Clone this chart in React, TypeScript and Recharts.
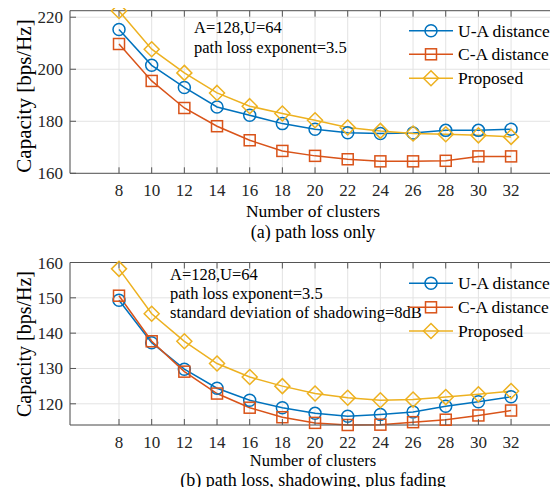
import React from "react";
import { LineChart, Line, XAxis, YAxis, CartesianGrid } from "recharts";

const clusters = [8, 10, 12, 14, 16, 18, 20, 22, 24, 26, 28, 30, 32];

// (a) path loss only
const uaPathLoss = [215.3, 201.5, 193.0, 185.5, 182.3, 179.1, 176.9, 175.6, 175.3, 175.5, 176.5, 176.5, 176.9];
const caPathLoss = [209.7, 195.5, 185.1, 178.1, 172.7, 168.6, 166.7, 165.4, 164.6, 164.6, 164.8, 166.5, 166.5];
const propPathLoss = [222.4, 207.7, 198.6, 190.9, 185.8, 183.0, 180.4, 177.6, 176.3, 175.3, 175.0, 174.6, 174.0];

// (b) path loss, shadowing, plus fading
const uaFading = [149.3, 137.3, 129.8, 124.4, 121.0, 118.9, 117.3, 116.5, 117.0, 117.7, 119.3, 120.6, 122.0];
const caFading = [150.6, 137.7, 129.1, 122.9, 118.9, 116.2, 114.6, 114.0, 114.1, 114.8, 115.5, 116.7, 118.1];
const propFading = [158.2, 145.5, 137.7, 131.4, 127.6, 125.0, 122.9, 121.7, 121.0, 121.2, 121.9, 122.7, 123.6];

const yTicksA = [160, 180, 200, 220];
const yTicksB = [120, 130, 140, 150, 160];

const seriesNames = ["U-A distance", "C-A distance", "Proposed"];
const COLORS = ["#0072BD", "#D95319", "#EDB120"];
const MARKERS = ["circle", "square", "diamond"];

const FONT = '"Liberation Serif", "Times New Roman", Times, serif';
const AXIS = "#555555";
const GRID = "#e3e3e3";
const serif = { fontFamily: FONT };

function buildRows(a: number[], b: number[], c: number[]) {
  return clusters.map((k, i) => ({ k, ua: a[i], ca: b[i], prop: c[i] }));
}

function Marker({ kind, cx, cy, color }: { kind: string; cx: number; cy: number; color: string }) {
  if (kind === "circle") return <circle cx={cx} cy={cy} r={6} fill="none" stroke={color} strokeWidth={1.5} />;
  if (kind === "square")
    return <rect x={cx - 5.5} y={cy - 5.5} width={11} height={11} fill="none" stroke={color} strokeWidth={1.5} />;
  return (
    <polygon
      points={`${cx},${cy - 7.5} ${cx + 7.5},${cy} ${cx},${cy + 7.5} ${cx - 7.5},${cy}`}
      fill="none"
      stroke={color}
      strokeWidth={1.5}
    />
  );
}

const dotFor = (idx: number) => (p: any) => (
  <Marker key={`${idx}-${p.index}`} kind={MARKERS[idx]} cx={p.cx} cy={p.cy} color={COLORS[idx]} />
);

// MATLAB style: ticks point into the box
const makeBottomTick = (labelOffset: number) => (p: any) => (
  <g>
    <line x1={p.x} x2={p.x} y1={p.y} y2={p.y - 6} stroke={AXIS} />
    <text x={p.x} y={p.y + labelOffset} textAnchor="middle" style={serif} fontSize={17} fill="#262626">
      {p.payload.value}
    </text>
  </g>
);
const TopTick = (p: any) => <line x1={p.x} x2={p.x} y1={p.y} y2={p.y + 6} stroke={AXIS} />;
const LeftTick = (p: any) => (
  <g>
    <line x1={p.x} x2={p.x + 6} y1={p.y} y2={p.y} stroke={AXIS} />
    <text x={p.x - 7} y={p.y + 6} textAnchor="end" style={serif} fontSize={17} fill="#262626">
      {p.payload.value}
    </text>
  </g>
);
const RightTick = (p: any) => <line x1={p.x} x2={p.x - 6} y1={p.y} y2={p.y} stroke={AXIS} />;

function Panel({
  rows,
  yDomain,
  yTicks,
  top,
  height,
  plotTop,
  plotBottom,
  labelOffset,
}: {
  rows: any[];
  yDomain: [number, number];
  yTicks: number[];
  top: number;
  height: number;
  plotTop: number;
  plotBottom: number;
  labelOffset: number;
}) {
  return (
    <div style={{ position: "absolute", left: 0, top }}>
      <LineChart
        width={558}
        height={height}
        data={rows}
        margin={{ top: plotTop - 1, right: 1, bottom: height - plotBottom - 30, left: 0 }}
      >
        <CartesianGrid stroke={GRID} />
        <XAxis
          dataKey="k"
          type="number"
          domain={[5, 34.75]}
          ticks={clusters}
          height={30}
          tickSize={0}
          tickMargin={0}
          tickLine={false}
          tick={makeBottomTick(labelOffset)}
          axisLine={{ stroke: AXIS }}
          interval={0}
        />
        <XAxis
          xAxisId="top"
          orientation="top"
          dataKey="k"
          type="number"
          domain={[5, 34.75]}
          ticks={clusters}
          height={1}
          tickSize={0}
          tickMargin={0}
          tickLine={false}
          tick={TopTick}
          axisLine={{ stroke: AXIS }}
          interval={0}
        />
        <YAxis
          type="number"
          domain={yDomain}
          ticks={yTicks}
          width={70}
          tickSize={0}
          tickMargin={0}
          tickLine={false}
          tick={LeftTick}
          axisLine={{ stroke: AXIS }}
          interval={0}
        />
        <YAxis
          yAxisId="right"
          orientation="right"
          type="number"
          domain={yDomain}
          ticks={yTicks}
          width={1}
          tickSize={0}
          tickMargin={0}
          tickLine={false}
          tick={RightTick}
          axisLine={{ stroke: AXIS }}
          interval={0}
        />
        {["ua", "ca", "prop"].map((key, i) => (
          <Line
            key={key}
            dataKey={key}
            stroke={COLORS[i]}
            strokeWidth={1.5}
            dot={dotFor(i)}
            activeDot={false}
            isAnimationActive={false}
          />
        ))}
      </LineChart>
    </div>
  );
}

function LegendBox({ rowsY }: { rowsY: number[] }) {
  return (
    <g>
      {seriesNames.map((name, i) => (
        <g key={name}>
          <line x1={409} x2={453} y1={rowsY[i]} y2={rowsY[i]} stroke={COLORS[i]} strokeWidth={1.5} />
          <Marker kind={MARKERS[i]} cx={431} cy={rowsY[i]} color={COLORS[i]} />
          <text x={458} y={rowsY[i] + 6} style={serif} fontSize={17.5} fill="#000">
            {name}
          </text>
        </g>
      ))}
    </g>
  );
}

export default function App() {
  const rowsA = buildRows(uaPathLoss, caPathLoss, propPathLoss);
  const rowsB = buildRows(uaFading, caFading, propFading);

  return (
    <div style={{ position: "relative", width: 558, height: 495, margin: -8, background: "#fff", fontFamily: FONT }}>
      <Panel rows={rowsA} yDomain={[160, 222.5]} yTicks={yTicksA} top={0} height={250} plotTop={10.7} plotBottom={173.3} labelOffset={23} />
      <Panel rows={rowsB} yDomain={[114, 160]} yTicks={yTicksB} top={250} height={245} plotTop={12.5} plotBottom={175} labelOffset={22.5} />

      <svg width={558} height={495} style={{ position: "absolute", left: 0, top: 0, pointerEvents: "none", fontFamily: FONT }}>
        {/* panel (a) text */}
        <text x={194} y={33.3} style={serif} fontSize={16.5}>A=128,U=64</text>
        <text x={194} y={52.7} style={serif} fontSize={16.5}>path loss exponent=3.5</text>
        <LegendBox rowsY={[30.7, 54.3, 78.3]} />
        <text x={313} y={217} textAnchor="middle" style={serif} fontSize={17.5}>Number of clusters</text>
        <text x={313} y={237.5} textAnchor="middle" style={serif} fontSize={18}>(a) path loss only</text>
        <text
          transform="translate(24,96) rotate(-90)"
          textAnchor="middle"
          dominantBaseline="central"
          style={serif}
          fontSize={21}
        >
          Capacity [bps/Hz]
        </text>

        {/* panel (b) text */}
        <text x={170} y={279.5} style={serif} fontSize={16.5}>A=128,U=64</text>
        <text x={170} y={299} style={serif} fontSize={16.5}>path loss exponent=3.5</text>
        <text x={170} y={318.3} style={serif} fontSize={16.5}>standard deviation of shadowing=8dB</text>
        <LegendBox rowsY={[283.3, 307.3, 331]} />
        <text x={313} y={466} textAnchor="middle" style={serif} fontSize={16.5}>Number of clusters</text>
        <text x={313} y={486} textAnchor="middle" style={serif} fontSize={18}>
          (b) path loss, shadowing, plus fading
        </text>
        <text
          transform="translate(24,344) rotate(-90)"
          textAnchor="middle"
          dominantBaseline="central"
          style={serif}
          fontSize={20}
        >
          Capacity [bps/Hz]
        </text>
      </svg>
    </div>
  );
}
